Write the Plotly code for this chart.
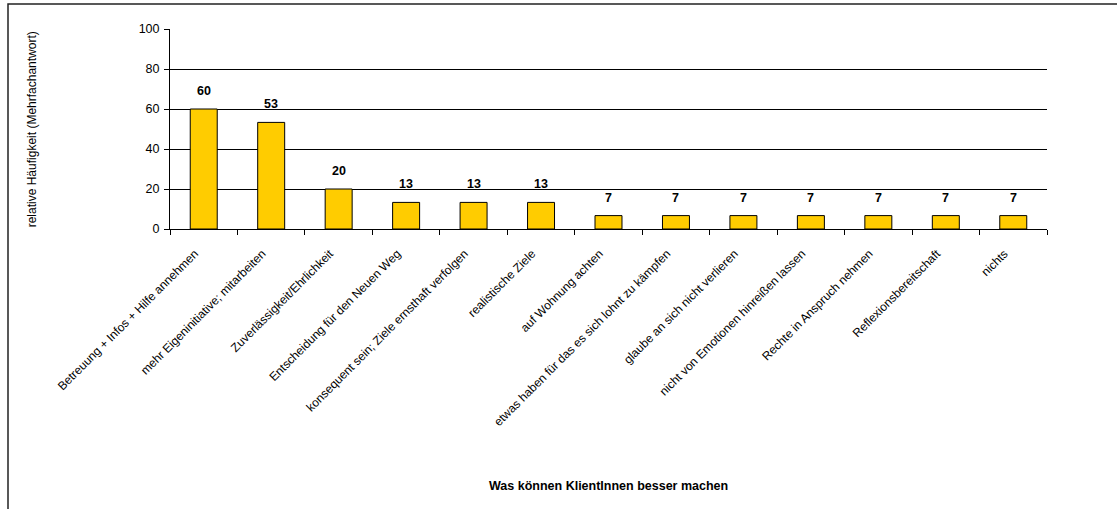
import plotly.graph_objects as go

categories = [
    "Betreuung + Infos + Hilfe annehmen",
    "mehr Eigeninitiative; mitarbeiten",
    "Zuverlässigkeit/Ehrlichkeit",
    "Entscheidung für den Neuen Weg",
    "konsequent sein; Ziele ernsthaft verfolgen",
    "realistische Ziele",
    "auf Wohnung achten",
    "etwas haben für das es sich lohnt zu kämpfen",
    "glaube an sich nicht verlieren",
    "nicht von Emotionen hinreißen lassen",
    "Rechte in Anspruch nehmen",
    "Reflexionsbereitschaft",
    "nichts",
]
values = [60.0, 53.3, 20.0, 13.3, 13.3, 13.3, 6.7, 6.7, 6.7, 6.7, 6.7, 6.7, 6.7]
y_ticks = [0, 20, 40, 60, 80, 100]

FONT = "Liberation Sans, Arial, sans-serif"

fig = go.Figure()
fig.add_trace(go.Bar(
    x=categories,
    y=values,
    width=0.4,
    marker=dict(color="#FFCC00", line=dict(color="#000000", width=1)),
    hoverinfo="x+y",
))

# value labels above bars
for c, v in zip(categories, values):
    fig.add_annotation(
        x=c, y=v, xref="x", yref="y",
        text=f"<b>{v:.0f}</b>",
        showarrow=False, yanchor="bottom", yshift=9,
        font=dict(family=FONT, size=12.5, color="#000000"),
    )

fig.update_layout(
    width=1117, height=509,
    margin=dict(l=170, r=70, t=29, b=280),
    paper_bgcolor="white",
    plot_bgcolor="white",
    showlegend=False,
    bargap=0.6,
    font=dict(family=FONT, color="#000000"),
    xaxis=dict(
        type="category",
        tickangle=-45,
        tickson="boundaries",
        ticks="outside",
        ticklen=5,
        tickcolor="#000000",
        showline=True,
        linecolor="#000000",
        linewidth=1,
        showgrid=False,
        ticklabelstandoff=12,
        ticklabelshift=-9,
        tickfont=dict(family=FONT, size=12, color="#000000"),
    ),
    yaxis=dict(
        range=[0, 100],
        tickvals=y_ticks,
        ticks="outside",
        ticklen=5,
        tickcolor="#000000",
        showline=True,
        linecolor="#000000",
        linewidth=1,
        showgrid=True,
        gridcolor="#000000",
        gridwidth=1,
        zeroline=False,
        ticklabelstandoff=2,
        tickfont=dict(family=FONT, size=12.5, color="#000000"),
    ),
)

# axis titles
fig.add_annotation(
    xref="paper", yref="paper", x=0.5, y=-1.285,
    text="<b>Was können KlientInnen besser machen</b>",
    showarrow=False, xanchor="center", yanchor="middle",
    font=dict(family=FONT, size=12.5, color="#000000"),
)
fig.add_annotation(
    xref="paper", yref="paper", x=-0.157, y=0.5,
    text="relative Häufigkeit (Mehrfachantwort)",
    textangle=-90,
    showarrow=False, xanchor="center", yanchor="middle",
    font=dict(family=FONT, size=12, color="#000000"),
)

# chart frame
fig.add_shape(
    type="rect", xref="paper", yref="paper",
    x0=(8 - 170) / 877, x1=(1140 - 170) / 877,
    y0=-(540 - 229) / 200, y1=(229 - 4) / 200,
    line=dict(color="#222222", width=1.5),
    fillcolor="rgba(0,0,0,0)",
    layer="above",
)

fig.write_html("out.html")
